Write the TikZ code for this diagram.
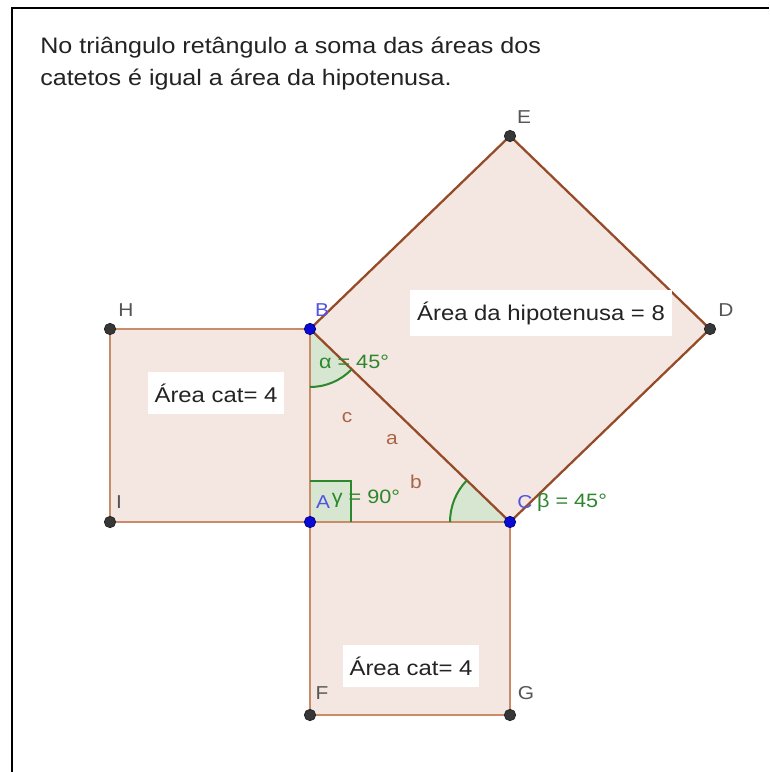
\documentclass[tikz,border=0pt]{standalone}
\usepackage{fontspec}
\setmainfont{Liberation Sans}[FakeStretch=1.12]
\definecolor{fillc}{RGB}{244,231,225}
\definecolor{edgeL}{RGB}{200,140,105}
\definecolor{edgeD}{RGB}{150,75,40}
\definecolor{ptgray}{RGB}{55,55,55}
\definecolor{ptblue}{RGB}{10,10,215}
\definecolor{angfill}{RGB}{214,230,208}
\definecolor{anggreen}{RGB}{45,135,45}
\definecolor{labgray}{RGB}{85,85,85}
\definecolor{seglab}{RGB}{170,100,70}
\definecolor{txtgray}{RGB}{35,35,35}
\begin{document}
\begin{tikzpicture}[x=0.75pt,y=-0.75pt,
  gdot/.style={circle,fill=ptgray,draw=black!85,line width=0.6pt,minimum size=8.5pt,inner sep=0pt},
  bdot/.style={gdot,fill=ptblue,draw=ptblue!60!black},
  ptlab/.style={text=labgray,font=\fontsize{14}{16}\selectfont,inner sep=0pt},
  bptlab/.style={ptlab,text=ptblue!70!white},
  seglabel/.style={text=seglab,font=\fontsize{14}{16}\selectfont,inner sep=0pt},
  anglabel/.style={text=anggreen,font=\fontsize{14.5}{16}\selectfont,inner sep=0pt},
  areabox/.style={fill=white,text=txtgray,font=\fontsize{16}{18}\selectfont,inner xsep=5pt,inner ysep=9pt},
  edgelight/.style={draw=edgeL,line width=1.5pt},
  edgedark/.style={draw=edgeD,line width=1.7pt},
  arcline/.style={draw=anggreen,line width=1.5pt}
]
\useasboundingbox (0,0) rectangle (769,772);
\fill[white] (0,0) rectangle (769,772);
\draw[line width=1.5pt,black] (12,772) -- (12,8) -- (769,8);

% header text
\node[anchor=base west,inner sep=0pt,text=txtgray,font=\fontsize{16.8}{20}\selectfont] (t1) at (40,53) {No triângulo retângulo a soma das áreas dos};
\node[anchor=base west,inner sep=0pt,text=txtgray,font=\fontsize{16.8}{20}\selectfont] (t2) at (40,85) {catetos é igual a área da hipotenusa.};

% points
\coordinate (A) at (310,522);
\coordinate (B) at (310,329);
\coordinate (C) at (510,522);
\coordinate (D) at (710,329);
\coordinate (E) at (510,136);
\coordinate (F) at (310,715);
\coordinate (G) at (510,715);
\coordinate (H) at (110,329);
\coordinate (I) at (110,522);

% fills
\fill[fillc] (H) -- (B) -- (A) -- (I) -- cycle;
\fill[fillc] (A) -- (C) -- (G) -- (F) -- cycle;
\fill[fillc] (B) -- (E) -- (D) -- (C) -- cycle;
\fill[fillc] (A) -- (B) -- (C) -- cycle;

% angle sectors
\fill[angfill] (B) -- ++(90:58) arc[start angle=90,end angle=44,radius=58] -- cycle;
\fill[angfill] (C) -- ++(180:60) arc[start angle=180,end angle=224,radius=60] -- cycle;
\fill[angfill] (A) rectangle (351,481);

% edges
\draw[edgelight] (H) -- (B) -- (A) -- (I) -- cycle;
\draw[edgelight] (A) -- (C) -- (G) -- (F) -- cycle;
\draw[edgedark] (B) -- (E) -- (D) -- (C) -- cycle;

% angle arcs
\draw[arcline] (B) ++(90:58) arc[start angle=90,end angle=44,radius=58];
\draw[arcline] (C) ++(180:60) arc[start angle=180,end angle=224,radius=60];
\draw[arcline] (310,481) -- (351,481) -- (351,522);

% dots
\node[gdot] (dH) at (H) {};
\node[gdot] (dI) at (I) {};
\node[gdot] (dE) at (E) {};
\node[gdot] (dD) at (D) {};
\node[gdot] (dF) at (F) {};
\node[gdot] (dG) at (G) {};
\node[bdot] (dA) at (A) {};
\node[bdot] (dB) at (B) {};
\node[bdot] (dC) at (C) {};

% point labels
\node[ptlab] (lH) at (126,310) {H};
\node[ptlab] (lI) at (119,502) {I};
\node[ptlab] (lE) at (524,117) {E};
\node[ptlab] (lD) at (726,310) {D};
\node[ptlab] (lF) at (322,693) {F};
\node[ptlab] (lG) at (526,693) {G};

% angle labels
\node[anglabel] (alpha) at (354,362) {α = 45°};
\node[anglabel] (gamma) at (366,499) {γ = 90°};
\node[anglabel] (beta) at (572,502) {β = 45°};

\node[bptlab] (lB) at (322,310) {B};
\node[bptlab] (lA) at (323,502) {A};
\node[bptlab] (lC) at (525,502) {C};

% segment labels
\node[seglabel] (sc) at (347,418) {c};
\node[seglabel] (sa) at (392,440) {a};
\node[seglabel] (sb) at (416,482) {b};

% area boxes
\node[areabox] (ar1) at (216,393) {Área cat= 4};
\node[areabox] (ar2) at (411,666) {Área cat= 4};
\node[areabox] (ar3) at (541,313) {Área da hipotenusa = 8};
\end{tikzpicture}
\end{document}
